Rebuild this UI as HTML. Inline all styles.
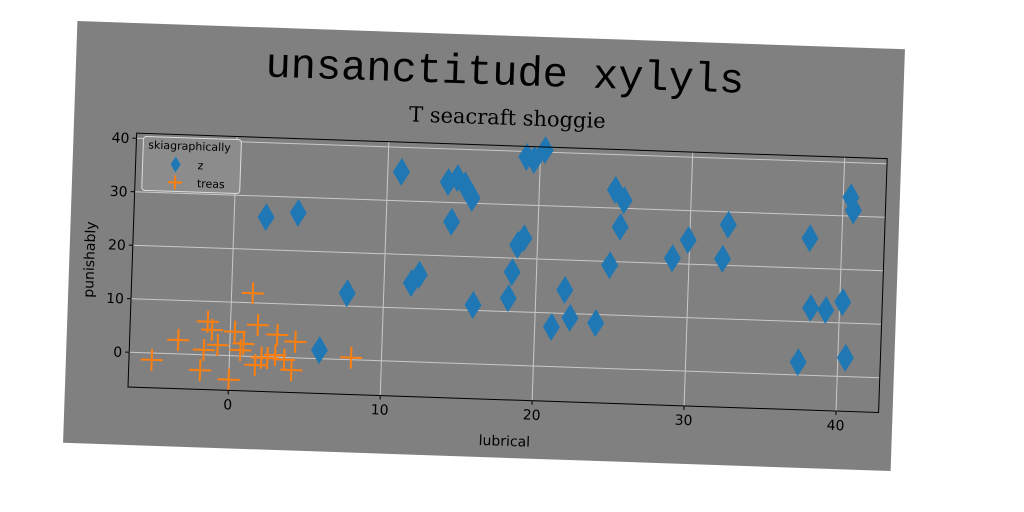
<!DOCTYPE html>
<html><head><meta charset="utf-8"><style>
html,body{margin:0;padding:0;background:#fff;width:1024px;height:512px;overflow:hidden}
#fig{position:absolute;left:70px;top:35px;width:828px;height:422px;transform:rotate(1.95deg);transform-origin:414px 211px;background:#808080}
svg text{font-family:"DejaVu Sans","Liberation Sans",sans-serif}
</style></head><body>
<div id="fig">
<svg id="chart" width="828" height="422" xmlns="http://www.w3.org/2000/svg">
<text x="429" y="49" text-anchor="middle" font-size="42" style="font-family:'Liberation Mono','DejaVu Sans Mono',monospace" fill="#000">unsanctitude xylyls</text>
<text x="433" y="89" text-anchor="middle" font-size="21" style="font-family:'DejaVu Serif','Liberation Serif',serif" fill="#000">T seacraft shoggie</text>
<g id="grid"></g><g id="marks"></g><g id="axes"></g>
<text x="441" y="410" text-anchor="middle" font-size="14" fill="#000">lubrical</text>
<text x="0" y="0" transform="translate(25,238) rotate(-90)" text-anchor="middle" font-size="14" fill="#000">punishably</text>
<g>
<rect x="70" y="113" width="98" height="54" rx="3" fill="#8c8c8c" stroke="#dddddd" stroke-width="1"/>
<text x="75" y="125" font-size="11" fill="#000">skiagraphically</text>
<g><path d="M103,132 L108,140 L103,148 L98,140 Z" fill="#1f77b4"/><text x="125" y="144" font-size="11" fill="#000">z</text></g>
<g><path d="M96,158 H110 M103,151 V165" stroke="#ff7f0e" stroke-width="2"/><text x="125" y="162" font-size="11" fill="#000">treas</text></g>
</g>
</svg></div>
<script>
const xTicks=[0,10,20,30,40];
const yTicks=[0,10,20,30,40];
const zX=[2.1,4.2,7.6,5.9,10.9,11.8,12.3,14.0,14.3,14.6,15.1,15.6,15.9,18.2,18.4,18.7,19.1,19.1,19.6,20.3,21.1,21.9,22.3,24.0,24.8,25.0,25.4,25.6,28.9,29.9,32.2,32.5,37.4,37.9,38.1,39.1,40.2,40.5,40.5,40.7];
const zY=[26.1,27.1,12.4,1.6,35.4,14.7,16.3,33.8,26.4,34.6,33.3,31.0,11.0,12.5,17.4,22.5,23.8,39.0,38.5,40.4,7.4,14.4,9.2,8.4,19.3,33.4,26.5,31.5,21.0,24.5,21.2,27.6,2.4,25.6,12.6,12.3,13.9,3.5,33.5,31.1];
const tX=[-5.1,-3.4,-1.9,-1.5,-1.2,-1.7,-0.8,0.0,0.3,0.7,0.9,1.4,1.8,1.7,2.1,2.5,3.1,3.0,3.6,4.1,4.3,8.0];
const tY=[-1.3,2.6,-2.9,6.2,4.7,0.9,1.9,-4.5,4.5,1.1,2.3,11.8,5.9,-1.6,-0.2,-0.2,4.2,0.4,-0.4,-2.3,3.0,0.4];
const X0=63,X1=814,Y0=110,Y1=364,xmin=-6.6,xmax=42.8,ymin=-6.5,ymax=40.96;
const sx=v=>X0+(v-xmin)/(xmax-xmin)*(X1-X0);
const sy=v=>Y1-(v-ymin)/(ymax-ymin)*(Y1-Y0);
const NS='http://www.w3.org/2000/svg';
function mk(t,a,p){const e=document.createElementNS(NS,t);for(const k in a)e.setAttribute(k,a[k]);p.appendChild(e);return e;}
const grid=document.getElementById('grid'),marks=document.getElementById('marks'),axes=document.getElementById('axes');
xTicks.forEach(t=>{const x=sx(t);
const g=mk('line',{x1:x,x2:x,y1:Y0,y2:Y1,stroke:'#c8c8c8','stroke-width':1},grid);


mk('line',{x1:x,x2:x,y1:Y1,y2:Y1+4,stroke:'#000'},axes);
const l=mk('text',{x:x,y:Y1+19,'text-anchor':'middle','font-size':14,fill:'#000'},axes);l.textContent=t;

});
yTicks.forEach(t=>{const y=sy(t);
const g=mk('line',{x1:X0,x2:X1,y1:y,y2:y,stroke:'#c8c8c8','stroke-width':1},grid);


mk('line',{x1:X0-4,x2:X0,y1:y,y2:y,stroke:'#000'},axes);
const l=mk('text',{x:X0-7,y:y+5,'text-anchor':'end','font-size':14,fill:'#000'},axes);l.textContent=t;

});
const fr=mk('rect',{x:X0,y:Y0,width:X1-X0,height:Y1-Y0,fill:'none',stroke:'#000','stroke-width':1},axes);


zX.forEach((v,i)=>{const x=sx(v),y=sy(zY[i]);
const p=mk('path',{d:`M${x},${y-14} L${x+8.5},${y} L${x},${y+14} L${x-8.5},${y} Z`,fill:'#1f77b4'},marks);

});
tX.forEach((v,i)=>{const x=sx(v),y=sy(tY[i]);
const p=mk('path',{d:`M${x-11},${y} H${x+11} M${x},${y-11} V${y+11}`,stroke:'#ff7f0e','stroke-width':2,fill:'none'},marks);

});
</script>
</body></html>
